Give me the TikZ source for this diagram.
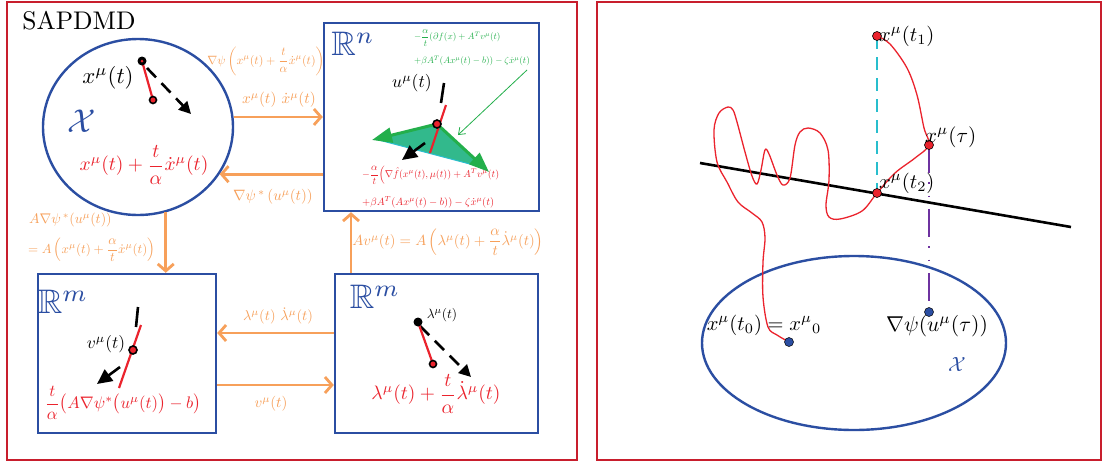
\documentclass[tikz,border=0pt]{standalone}
\usepackage{amsmath,amssymb,graphicx}
\usetikzlibrary{arrows.meta,calc,shapes.geometric}
\definecolor{pblue}{RGB}{43,78,162}
\definecolor{pred}{RGB}{200,30,45}
\definecolor{fred}{RGB}{235,35,45}
\definecolor{porange}{RGB}{247,160,90}
\definecolor{pgreen}{RGB}{35,175,75}
\definecolor{pteal}{RGB}{50,185,140}
\definecolor{pcyan}{RGB}{40,190,205}
\definecolor{ppurple}{RGB}{110,50,160}
\tikzset{
  panel/.style={draw=pred, line width=2.2pt},
  spacebox/.style={draw=pblue, line width=2.4pt, rectangle, inner sep=0pt},
  oarr/.style={draw=porange, line width=2.8pt, -{Straight Barb[length=7pt,width=16pt]}},
  olab/.style={text=porange, inner sep=0pt},
  rlab/.style={text=fred, inner sep=0pt},
  klab/.style={text=black, inner sep=0pt},
  glab/.style={text=pgreen, inner sep=0pt},
  blab/.style={text=pblue, inner sep=0pt},
  darr/.style={black, line width=2.6pt, dash pattern=on 13pt off 8pt, -{Triangle[length=12pt,width=12pt]}},
  garr/.style={pgreen, line width=3pt, -{Triangle[length=20pt,width=15pt]}},
  blackdot/.style={fill=black},
  reddot/.style={fill=fred, draw=black, line width=1.6pt},
  trajdot/.style={fill=fred, draw=black, line width=0.6pt},
  bluedot/.style={fill=pblue, draw=black, line width=0.5pt},
  redseg/.style={fred, line width=2.2pt},
  blackseg/.style={black, line width=2.6pt},
}
\begin{document}
\begin{tikzpicture}[x=1pt,y=-1pt]
\useasboundingbox (0,0) rectangle (1103,464);
\fill[white] (0,0) rectangle (1103,464);
% panels
\draw[panel] (7,2) rectangle (577,460);
\draw[panel] (597,2) rectangle (1101,460);
\node[klab] (title) at (79,21) {\scalebox{2.55}{SAPDMD}};

% ---------- left panel: spaces ----------
\node[draw=pblue, line width=2.4pt, ellipse, minimum width=190pt, minimum height=176pt, inner sep=0pt] (circX) at (138,127) {};
\node[spacebox, minimum width=215pt, minimum height=188pt] (boxRn) at (431.5,117) {};
\node[spacebox, minimum width=178pt, minimum height=159pt] (boxL) at (127,353.5) {};
\node[spacebox, minimum width=203pt, minimum height=159pt] (boxR) at (436.5,353.5) {};

% circle contents
\node[klab] (xmut) at (108,78) {\scalebox{2.28}{$x^{\mu}(t)$}};
\node[blab] (calX) at (82,121) {\scalebox{3.3}{$\mathcal{X}$}};
\draw[darr] (147,68) -- (191,114);
\draw[redseg] (142,61) -- (153,100);
\fill[blackdot] (142,61) circle (4.5pt);
\fill[fred] (142,61) circle (1.5pt);
\filldraw[reddot] (153,100) circle (3.5pt);
\node[rlab] (xstep) at (144,165) {\scalebox{1.95}{$x^{\mu}(t)+\dfrac{t}{\alpha}\dot{x}^{\mu}(t)$}};

% R^n contents
\node[blab] (Rn) at (353,44) {\scalebox{3.4}{$\mathbb{R}^{n}$}};
\node[glab, anchor=west] (g1) at (414,38) {\scalebox{0.92}{$-\dfrac{\alpha}{t}(\partial f(x)+A^{T}v^{\mu}(t)$}};
\node[glab, anchor=west] (g2) at (414,61) {\scalebox{0.92}{$+\beta A^{T}(Ax^{\mu}(t)-b))-\zeta\dot{x}^{\mu}(t)$}};
\coordinate (gtip) at (458,135);
\draw[pgreen, line width=0.8pt, -{Straight Barb[length=6pt,width=9pt]}] (527,70) -- (gtip);
\node[klab] (umut) at (412,83) {\scalebox{1.76}{$u^{\mu}(t)$}};
\fill[pteal] (437,124) -- (375,139) -- (485,168) -- cycle;
\draw[pcyan, line width=1pt] (375,139) -- (485,168);
\draw[garr] (437,124) -- (372,140);
\draw[garr] (437,124) -- (489,172);
\draw[blackseg] (444,83) -- (441,103);
\draw[black, line width=2.6pt, -{Triangle[length=15pt,width=14pt]}] (425,143) -- (402,160);
\draw[redseg] (446,105) -- (430,153);
\filldraw[reddot] (437,124) circle (4pt);
\node[rlab, anchor=west] (r1) at (362,175) {\scalebox{1.0}{$-\dfrac{\alpha}{t}\Big(\nabla\hat{f}(x^{\mu}(t),\mu(t))+A^{T}v^{\mu}(t)$}};
\node[rlab, anchor=west] (r2) at (362,202) {\scalebox{1.05}{$+\beta A^{T}(Ax^{\mu}(t)-b))-\zeta\dot{x}^{\mu}(t)$}};

% left R^m contents
\node[blab] (Rm1) at (63,302) {\scalebox{3.4}{$\mathbb{R}^{m}$}};
\draw[blackseg] (138,307) -- (136,327);
\draw[black, line width=2.6pt, -{Triangle[length=15pt,width=14pt]}] (120,367) -- (97,384);
\draw[redseg] (141,325) -- (119,388);
\filldraw[reddot] (133,350) circle (4pt);
\node[klab] (vmut) at (106,344) {\scalebox{1.74}{$v^{\mu}(t)$}};
\node[rlab] (vstep) at (123,403) {\scalebox{1.67}{$\dfrac{t}{\alpha}\big(A\nabla\psi^{*}\big(u^{\mu}(t)\big)-b\big)$}};

% right R^m contents
\node[blab] (Rm2) at (375,297) {\scalebox{3.4}{$\mathbb{R}^{m}$}};
\draw[darr] (420,326) -- (471,377);
\draw[redseg] (418,322) -- (433,364);
\fill[blackdot] (418,322) circle (4.5pt);
\filldraw[reddot] (433,364) circle (3.5pt);
\node[klab] (lmut) at (442,315) {\scalebox{1.35}{$\lambda^{\mu}(t)$}};
\node[rlab] (lstep) at (436,394) {\scalebox{1.95}{$\lambda^{\mu}(t)+\dfrac{t}{\alpha}\dot{\lambda}^{\mu}(t)$}};

% orange connectors
\coordinate (upstart) at ($(boxR.north)+(-85.5,0)$);
\coordinate (lstart) at ($(boxR.west)+(0,-20.5)$);
\coordinate (rstart) at ($(boxL.east)+(0,31.5)$);
\draw[oarr] (circX.6) -- (circX.6 -| boxRn.west);
\draw[oarr] (boxRn.west |- circX.-30) -- (circX.-30);
\draw[oarr] (circX.-72) -- (circX.-72 |- boxL.north);
\draw[oarr] (lstart) -- (lstart -| boxL.east);
\draw[oarr] (rstart) -- (rstart -| boxR.west);
\draw[oarr] (upstart) -- (upstart |- boxRn.south);

% orange labels
\node[olab] (l1) at (266,61) {\scalebox{1.2}{$\nabla\psi\left(x^{\mu}(t)+\dfrac{t}{\alpha}\dot{x}^{\mu}(t)\right)$}};
\node[olab] (l2) at (279,100) {\scalebox{1.53}{$x^{\mu}(t)\ \dot{x}^{\mu}(t)$}};
\node[olab] (l3) at (273,197) {\scalebox{1.5}{$\nabla\psi^{\,*}\,(u^{\mu}(t))$}};
\node[olab, anchor=west] (l4) at (29,220) {\scalebox{1.4}{$A\nabla\psi^{\,*}(u^{\mu}(t))$}};
\node[olab, anchor=west] (l5) at (28,250) {\scalebox{1.3}{$=A\left(x^{\mu}(t)+\dfrac{\alpha}{t}\dot{x}^{\mu}(t)\right)$}};
\node[olab] (l6) at (278,316) {\scalebox{1.44}{$\lambda^{\mu}(t)\ \dot{\lambda}^{\mu}(t)$}};
\node[olab] (l7) at (271,404) {\scalebox{1.5}{$v^{\mu}(t)$}};
\node[olab] (l8) at (448,242) {\scalebox{1.47}{$Av^{\mu}(t)=A\left(\lambda^{\mu}(t)+\dfrac{\alpha}{t}\dot{\lambda}^{\mu}(t)\right)$}};

% ---------- right panel ----------
\node[draw=pblue, line width=2.4pt, ellipse, minimum width=304pt, minimum height=174pt, inner sep=0pt] (ellX) at (854,343) {};
\node[blab] (calX2) at (957,364) {\scalebox{2.05}{$\mathcal{X}$}};
\coordinate (t1) at (877,36);
\coordinate (tau) at (929,145);
\coordinate (t2) at (877,193);
\coordinate (grad) at (929,312);
\coordinate (t0) at (789,342);
\coordinate (la) at (700,163);
\coordinate (lb) at (1071,227);
\draw[black, line width=2.6pt] (la) -- (lb);
\draw[pcyan, line width=2.4pt, dash pattern=on 13pt off 8pt] (t1) -- (t2);
\draw[ppurple, line width=2.4pt, dash pattern=on 28pt off 9pt on 1.5pt off 12pt on 1.5pt off 12pt] (tau) -- (grad);
\draw[fred, line width=1.3pt] plot[smooth, tension=0.55] coordinates {(789,342) (777,335) (768,327) (763,297) (763,262) (765,238) (762,222) (752,213) (738,202) (727,182) (717,162) (714,130) (719,113) (728,107) (733,110) (737,122) (745,152) (752,176) (757,184) (761,170) (765,150) (769,154) (777,175) (783,185) (790,178) (795,145) (800,132) (808,128) (820,133) (828,150) (829,180) (826,205) (829,217) (840,219) (862,211) (877,193) (895,173) (915,158) (929,145) (924,128) (917,95) (907,68) (890,44) (877,36)};
\filldraw[trajdot] (t1) circle (4.5pt);
\filldraw[trajdot] (tau) circle (4.5pt);
\filldraw[trajdot] (t2) circle (4.5pt);
\filldraw[bluedot] (grad) circle (4.5pt);
\filldraw[bluedot] (t0) circle (4.5pt);
\node[klab, anchor=west] (lt1) at (879,36) {\scalebox{2.05}{$x^{\mu}(t_1)$}};
\node[klab, anchor=west] (ltau) at (925,137) {\scalebox{2.1}{$x^{\mu}(\tau)$}};
\node[klab, anchor=west] (lt2) at (879,183) {\scalebox{2.05}{$x^{\mu}(t_2)$}};
\node[klab] (lt0) at (764,325) {\scalebox{2.05}{$x^{\mu}(t_0)=x^{\mu}{}_{0}$}};
\node[klab] (lgrad) at (937,326) {\scalebox{2.15}{$\nabla\psi(u^{\mu}(\tau))$}};
\end{tikzpicture}
\end{document}
